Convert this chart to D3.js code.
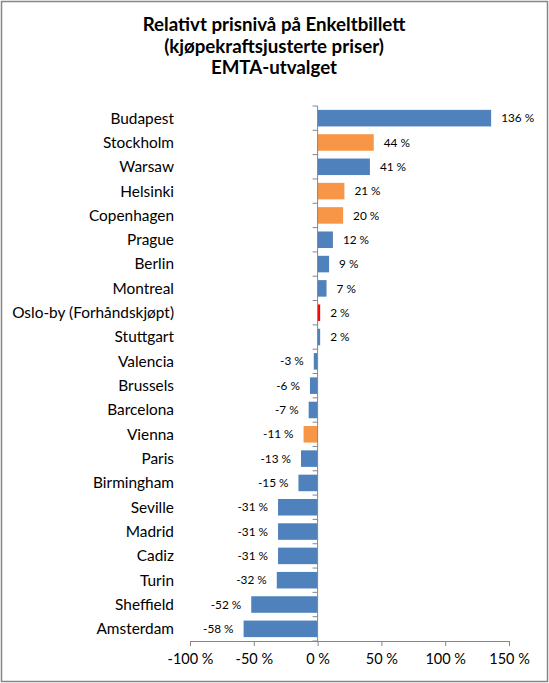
<!DOCTYPE html>
<html><head><meta charset="utf-8">
<script src="https://cdn.jsdelivr.net/npm/d3@7/dist/d3.min.js"></script>
<style>body{margin:0;background:#fff}svg{display:block}</style>
</head><body>
<svg id="c" width="549" height="683"></svg>
<script>
const cities = ["Budapest","Stockholm","Warsaw","Helsinki","Copenhagen","Prague","Berlin","Montreal","Oslo-by (Forhåndskjøpt)","Stuttgart","Valencia","Brussels","Barcelona","Vienna","Paris","Birmingham","Seville","Madrid","Cadiz","Turin","Sheffield","Amsterdam"];
const values = [136,44,41,21,20,12,9,7,2,2,-3,-6,-7,-11,-13,-15,-31,-31,-31,-32,-52,-58];
const groups = ["EMTA","Nordic","EMTA","Nordic","Nordic","EMTA","EMTA","EMTA","Oslo","EMTA","EMTA","EMTA","EMTA","Nordic","EMTA","EMTA","EMTA","EMTA","EMTA","EMTA","EMTA","EMTA"];
const xTicks = [-100,-50,0,50,100,150];
const titleLines = ["Relativt prisnivå på Enkeltbillett","(kjøpekraftsjusterte priser)","EMTA-utvalget"];
const colors = {EMTA:"#4F81BD", Nordic:"#F79646", Oslo:"#FF0000"};

const svg = d3.select("#c");
const font = "Lato, 'Open Sans', sans-serif";
svg.append("rect").attr("x",1.5).attr("y",1.5).attr("width",546).attr("height",680)
  .attr("fill","#fff").attr("stroke","#868686").attr("stroke-width",1.5);

const x = d3.scaleLinear().domain([-100,150]).range([190,509]);
const y = d3.scaleBand().domain(cities).range([106,641]).paddingInner(0.32).paddingOuter(0.16);

svg.append("g").selectAll("text").data(titleLines).join("text")
  .attr("x",274).attr("y",(d,i)=>31+i*21.5).attr("text-anchor","middle")
  .attr("font-family",font).attr("font-weight","bold").attr("font-size",18.7).attr("fill","#000")
  .text(d=>d);

// bars
const data = cities.map((c,i)=>({c,v:values[i],g:groups[i]}));
svg.append("g").selectAll("rect").data(data).join("rect")
  .attr("x",d=>x(Math.min(0,d.v))).attr("width",d=>Math.abs(x(d.v)-x(0)))
  .attr("y",d=>y(d.c)).attr("height",y.bandwidth()).attr("fill",d=>colors[d.g]);

// value labels
svg.append("g").selectAll("text").data(data).join("text")
  .attr("x",d=>d.v>=0 ? x(d.v)+10 : x(d.v)-10)
  .attr("text-anchor",d=>d.v>=0?"start":"end")
  .attr("y",d=>y(d.c)+y.bandwidth()/2).attr("dy","0.35em")
  .attr("font-family",font).attr("font-size",11.8).attr("fill","#000")
  .text(d=>d.v+" %");

// category labels
svg.append("g").selectAll("text").data(cities).join("text")
  .attr("x",174).attr("text-anchor","end")
  .attr("y",d=>y(d)+y.bandwidth()/2).attr("dy","0.35em")
  .attr("font-family",font).attr("font-size",15.4).attr("fill","#000")
  .text(d=>d);

// x axis
const xa = svg.append("g").attr("transform","translate(0,641)")
  .call(d3.axisBottom(x).tickValues(xTicks).tickSize(5).tickSizeOuter(0).tickFormat(d=>d+" %"));
xa.select(".domain").attr("stroke","#868686");
xa.selectAll(".tick line").attr("stroke","#868686");
xa.selectAll(".tick text").attr("font-family",font).attr("font-size",14.5).attr("fill","#000").attr("dy","1.05em");

// vertical zero axis with category boundary ticks
const boundaries = d3.range(cities.length+1).map(i=>106+i*(535/22));
const va = svg.append("g");
va.append("line").attr("x1",x(0)).attr("x2",x(0)).attr("y1",106).attr("y2",641).attr("stroke","#868686");
va.selectAll("line.t").data(boundaries).join("line").attr("class","t")
  .attr("x1",x(0)-5).attr("x2",x(0)).attr("y1",d=>d).attr("y2",d=>d).attr("stroke","#868686");
</script>
</body></html>
